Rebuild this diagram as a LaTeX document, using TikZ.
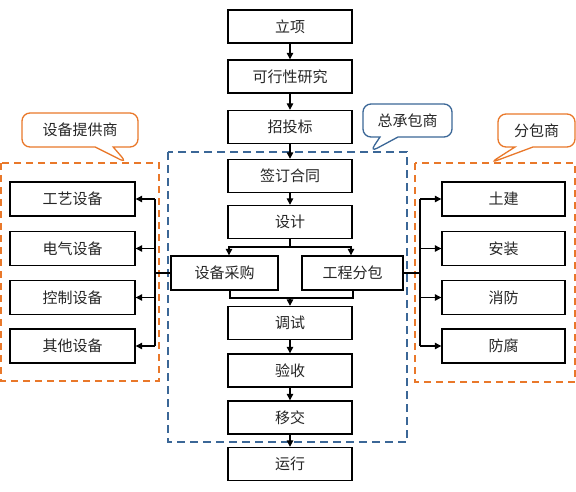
\documentclass[tikz,border=0pt]{standalone}
\usepackage{fontspec}
\newfontfamily\cjk{Noto Sans CJK SC}
\usetikzlibrary{arrows.meta,shapes.callouts}
\definecolor{orangeL}{HTML}{E9782A}
\definecolor{blueL}{HTML}{3B6797}
\definecolor{txt}{HTML}{262626}
\tikzset{
  box/.style={draw=black, line width=1.4pt, fill=white, minimum height=33pt, inner sep=0pt, font=\cjk\fontsize{15}{17}\selectfont, text=txt},
  cbox/.style={box, minimum width=124pt},
  sbox/.style={box, minimum width=124pt},
  arr/.style={line width=1.2pt, -{Triangle[length=6.5pt,width=6.5pt]}},
  ln/.style={line width=1.2pt},
  odash/.style={draw=orangeL, line width=2pt, dash pattern=on 7pt off 5pt},
  bdash/.style={draw=blueL, line width=1.8pt, dash pattern=on 8pt off 5pt},
  callbox/.style={rectangle callout, rounded corners=8pt, fill=white, line width=1.3pt, inner sep=0pt, font=\cjk\fontsize{15}{17}\selectfont, text=txt, callout pointer width=18pt}
}
\begin{document}
\begin{tikzpicture}[x=1pt,y=-1pt]
\useasboundingbox (0,0) rectangle (576,491);
% dashed groups
\draw[odash] (1,163) rectangle (159,381);
\draw[odash] (415,163) rectangle (575,382);
\draw[bdash] (168,152) rectangle (407,442);
% callout tips
\coordinate (tipA) at (127,163);
\coordinate (tipB) at (370,152);
\coordinate (tipC) at (490,163);
\node[callbox, draw=orangeL, minimum width=116pt, minimum height=34pt, callout absolute pointer={(tipA)}] (cA) at (80,130) {设备提供商};
\node[callbox, draw=blueL, minimum width=89pt, minimum height=33pt, callout absolute pointer={(tipB)}] (cB) at (407.5,120.5) {总承包商};
\node[callbox, draw=orangeL, minimum width=77pt, minimum height=33pt, callout absolute pointer={(tipC)}] (cC) at (536.5,130.5) {分包商};
% central column
\node[cbox] (lixiang) at (290,26.5) {立项};
\node[cbox] (kexing) at (290,76.5) {可行性研究};
\node[cbox] (zhaotou) at (290,127) {招投标};
\node[cbox] (qianding) at (290,176) {签订合同};
\node[cbox] (sheji) at (290,222) {设计};
\node[box, minimum width=107pt, minimum height=34pt] (caigou) at (224.5,273) {设备采购};
\node[box, minimum width=101pt, minimum height=34pt] (fenbao) at (352.5,273) {工程分包};
\node[cbox] (tiaoshi) at (290,323) {调试};
\node[cbox] (yanshou) at (290,370.5) {验收};
\node[cbox] (yijiao) at (290,417.5) {移交};
\node[cbox] (yunxing) at (290,464) {运行};
% left suppliers
\node[sbox, minimum width=125pt, minimum height=34pt] (l1) at (72.5,199) {工艺设备};
\node[sbox, minimum width=125pt, minimum height=34pt] (l2) at (72.5,248.5) {电气设备};
\node[sbox, minimum width=125pt, minimum height=34pt] (l3) at (72.5,297.5) {控制设备};
\node[sbox, minimum width=125pt, minimum height=34pt] (l4) at (72.5,346) {其他设备};
% right subcontractors
\node[sbox, minimum width=123pt, minimum height=34pt] (r1) at (503.5,199) {土建};
\node[sbox, minimum width=123pt, minimum height=34pt] (r2) at (503.5,248.5) {安装};
\node[sbox, minimum width=123pt, minimum height=34pt] (r3) at (503.5,297.5) {消防};
\node[sbox, minimum width=123pt, minimum height=34pt] (r4) at (503.5,346) {防腐};
% main flow
\draw[arr] (lixiang) -- (kexing);
\draw[arr] (kexing) -- (zhaotou);
\draw[arr] (zhaotou) -- (qianding);
\draw[arr] (qianding) -- (sheji);
\coordinate (j1) at (290,247);
\draw[ln] (sheji) -- (j1);
\draw[arr] (j1) -| ([xshift=4.5pt]caigou.north);
\draw[arr] (j1) -| ([xshift=-1.5pt]fenbao.north);
\coordinate (ml) at (230,298);
\coordinate (mr) at (353,298);
\coordinate (mc) at (290,298);
\draw[ln] (caigou.south -| ml) -- (ml) -- (mr) -- (fenbao.south -| mr);
\draw[arr] (mc) -- (tiaoshi.north);
\draw[arr] (tiaoshi) -- (yanshou);
\draw[arr] (yanshou) -- (yijiao);
\draw[arr] (yijiao) -- (yunxing);
% left bus
\coordinate (lb) at (155,273);
\draw[ln] (caigou.west) -- (lb);
\draw[ln] (lb |- l1.east) -- (lb |- l4.east);
\foreach \n in {l1,l2,l3,l4} \draw[arr] (lb |- \n.east) -- (\n.east);
% right bus
\coordinate (rb) at (420,273);
\draw[ln] (fenbao.east) -- (rb);
\draw[ln] (rb |- r1.west) -- (rb |- r4.west);
\foreach \n in {r1,r2,r3,r4} \draw[arr] (rb |- \n.west) -- (\n.west);
\end{tikzpicture}
\end{document}
